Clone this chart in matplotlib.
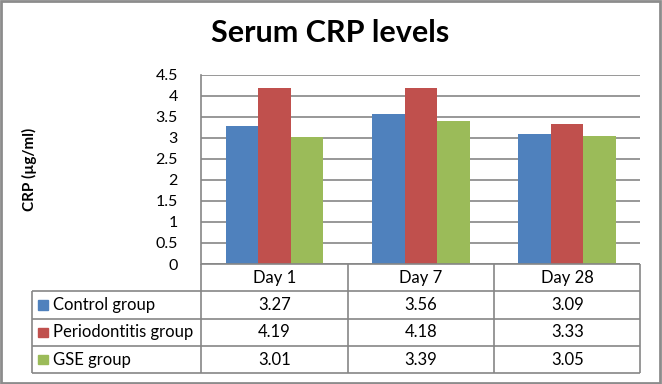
import matplotlib.pyplot as plt
from matplotlib.patches import Rectangle
import numpy as np

plt.rcParams['font.family'] = ['Lato', 'DejaVu Sans']

days = ['Day 1', 'Day 7', 'Day 28']
groups = ['Control group', 'Periodontitis group', 'GSE group']
control = [3.27, 3.56, 3.09]
periodontitis = [4.19, 4.18, 3.33]
gse = [3.01, 3.39, 3.05]
yticks = [0, 0.5, 1, 1.5, 2, 2.5, 3, 3.5, 4, 4.5]

colors = ['#4F81BD', '#C0504D', '#9BBB59']
grid_c = '#868686'

W, H = 662, 384
fig = plt.figure(figsize=(W / 100, H / 100), dpi=100)

def fx(px):
    return px / W

def fy(py):
    return 1 - py / H

# pixel layout of the plot area and the data table
x_left, x_right = 201.4, 640.4
y_top, y_zero = 74.7, 264.0
row_y = [264.0, 290.7, 318.3, 346.0, 373.3]
tab_left = 31.7

ax = fig.add_axes([fx(x_left), fy(y_zero), fx(x_right - x_left), (y_zero - y_top) / H])
x = np.arange(len(days))
bw = 1 / 4.5
series = [control, periodontitis, gse]
for i, vals in enumerate(series):
    ax.bar(x + (i - 1) * bw, vals, bw, color=colors[i], zorder=3)

ax.set_xlim(-0.5, 2.5)
ax.set_ylim(0, 4.5)
ax.set_yticks(yticks)
ax.set_yticklabels([('%g' % t) for t in yticks], fontsize=11.5)
ax.set_xticks([])
ax.yaxis.grid(True, color=grid_c, lw=1.2, zorder=0)
for s in ['top', 'right', 'bottom']:
    ax.spines[s].set_visible(False)
ax.spines['left'].set_color(grid_c)
ax.spines['left'].set_linewidth(1.2)
ax.tick_params(axis='y', length=0, pad=17, colors='black')
ax.set_ylabel('CRP (µg/ml)', fontsize=11, fontweight='bold', labelpad=0)
ax.yaxis.set_label_coords((37 - x_left) / (x_right - x_left), 0.5)

fig.text(fx(330), fy(33), 'Serum CRP levels', fontsize=22, fontweight='bold',
         ha='center', va='center')

# data table below the plot
unit = (x_right - x_left) / 3.0
tl = -0.5 - (x_left - tab_left) / unit
tax = fig.add_axes([fx(tab_left), fy(row_y[-1]), fx(640.4 - tab_left), (row_y[-1] - row_y[0]) / H])
tax.set_xlim(tl, 2.5)
tax.set_ylim(4, 0)
tax.axis('off')
lk = dict(color=grid_c, lw=1.2, solid_capstyle='butt', clip_on=False)
tax.plot([-0.5, 2.5], [0, 0], **lk)
for r in range(1, 5):
    tax.plot([tl, 2.5], [r, r], **lk)
for c in [-0.5, 0.5, 1.5, 2.5]:
    tax.plot([c, c], [0, 4], **lk)
tax.plot([tl, tl], [1, 4], **lk)

for j, d in enumerate(days):
    tax.text(j, 0.5, d, ha='center', va='center', fontsize=12)
key_w = 9.3 / unit
for i, (g, vals) in enumerate(zip(groups, series)):
    yc = i + 1.5
    tax.add_patch(Rectangle((tl + 6.7 / unit, yc - 0.17), key_w, 0.34,
                            color=colors[i], clip_on=False))
    tax.text(tl + 21 / unit, yc, g, ha='left', va='center', fontsize=12)
    for j, v in enumerate(vals):
        tax.text(j, yc, '%.2f' % v, ha='center', va='center', fontsize=12)

fig.add_artist(Rectangle((0.002, 0.003), 0.995, 0.994, transform=fig.transFigure,
                         fill=False, edgecolor='#8c8c8c', lw=2))

fig.savefig('out.png', dpi=100)
